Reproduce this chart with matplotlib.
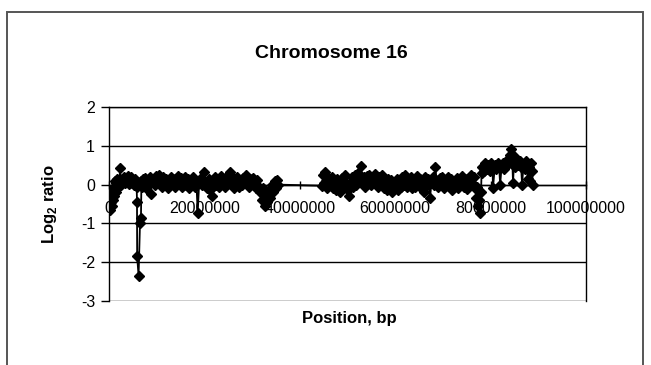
import matplotlib
matplotlib.use("Agg")
import matplotlib.pyplot as plt
from matplotlib.patches import Rectangle
import numpy as np

plt.rcParams['font.family'] = ['Liberation Sans', 'DejaVu Sans']
plt.rcParams['mathtext.fontset'] = 'custom'
plt.rcParams['mathtext.bf'] = 'Liberation Sans:bold'
plt.rcParams['mathtext.rm'] = 'Liberation Sans:bold'

title = "Chromosome 16"
x_label = "Position, bp"
y_label = r"Log$_\mathbf{2}$ ratio"
x_ticks = [0, 20000000, 40000000, 60000000, 80000000, 100000000]
y_ticks = [-3, -2, -1, 0, 1, 2]

# positions in Mb, log2 ratios
pos_a = [0.1, 0.2, 0.3, 0.4, 0.5, 0.6, 0.7, 0.8, 0.9, 1.0, 1.1, 1.2, 1.4, 1.5, 1.6, 1.8, 2.0, 2.2, 2.3, 2.4,
         2.6, 2.8, 3.0, 3.2, 3.4, 3.6, 3.8, 4.0, 4.2, 4.4, 4.6, 4.8, 5.0, 5.2, 5.4, 5.6, 5.8, 5.87, 5.9, 6.2,
         6.5, 6.7, 6.8, 7.0, 7.2, 7.4, 7.6, 7.8, 8.0, 8.2, 8.5, 8.8, 9.0, 9.3, 9.6, 9.9, 10.2, 10.5, 10.8, 11.1,
         11.4, 11.7, 12.0, 12.3, 12.6, 12.9, 13.2, 13.5, 13.8, 14.1, 14.4, 14.7, 15.0, 15.3, 15.6, 15.9, 16.2, 16.5, 16.8, 17.1,
         17.4, 17.7, 18.0, 18.3, 18.6, 18.9, 19.2, 19.5, 19.8, 20.0, 20.3, 20.6, 20.9, 21.2, 21.6, 21.9, 22.2, 22.5, 22.8, 23.1,
         23.4, 23.7, 24.0, 24.3, 24.6, 24.9, 25.2, 25.4, 25.7, 26.0, 26.3, 26.6, 26.9, 27.2, 27.5, 27.8, 28.1, 28.4, 28.7, 29.0,
         29.3, 29.6, 29.9, 30.2, 30.5, 30.8, 31.1, 31.4, 31.7, 32.0, 32.3, 32.6, 32.9, 33.2, 33.5, 33.8, 34.1, 34.4, 34.7, 35.0,
         35.2, 35.4]
val_a = [-0.55, -0.35, -0.65, -0.45, -0.3, -0.55, -0.2, -0.4, -0.1, -0.3, -0.15, 0.1, 0.05, -0.18, 0.15, -0.05, 0.12, 0.05, 0.42, 0.1,
         0.0, 0.15, 0.08, 0.2, 0.05, 0.18, 0.1, 0.22, 0.02, 0.15, 0.2, 0.05, 0.12, -0.02, 0.15, 0.1, -0.05, -0.45, -1.85, -2.35,
         -0.98, -0.85, 0.1, -0.05, 0.15, 0.0, 0.18, -0.1, 0.12, 0.05, 0.2, -0.25, 0.08, 0.15, 0.0, 0.22, 0.05, 0.25, 0.1, -0.05,
         0.2, 0.08, 0.15, -0.08, 0.1, 0.2, 0.02, 0.15, -0.05, 0.12, 0.22, 0.05, 0.18, -0.05, 0.1, 0.2, 0.0, 0.15, -0.08, 0.12,
         0.05, 0.2, -0.05, 0.1, -0.72, 0.05, 0.18, 0.0, 0.12, 0.33, 0.05, -0.1, 0.15, -0.15, -0.3, 0.1, 0.2, 0.0, 0.15, -0.05,
         0.22, 0.05, 0.15, -0.05, 0.1, 0.2, 0.28, 0.33, 0.05, 0.15, -0.1, 0.1, 0.2, -0.05, 0.12, 0.0, 0.18, 0.05, 0.25, 0.1,
         -0.05, 0.15, 0.02, 0.18, 0.05, -0.1, 0.12, -0.05, -0.2, -0.4, -0.1, -0.55, -0.25, -0.45, -0.15, -0.35, 0.0, -0.2, 0.1, -0.1,
         0.12, 0.0]

pos_b = [44.7, 44.9, 45.1, 45.3, 45.5, 45.8, 46.1, 46.4, 46.7, 47.0, 47.3, 47.6, 47.9, 48.2, 48.5, 48.8, 49.1, 49.4, 49.7, 50.0,
         50.3, 50.6, 50.9, 51.2, 51.5, 51.8, 52.1, 52.4, 52.8, 53.1, 53.4, 53.7, 54.0, 54.3, 54.6, 54.9, 55.2, 55.5, 55.8, 56.1,
         56.4, 56.7, 57.0, 57.3, 57.6, 57.9, 58.2, 58.5, 58.8, 59.1, 59.4, 59.7, 60.0, 60.3, 60.6, 60.9, 61.2, 61.5, 61.8, 62.1,
         62.4, 62.7, 63.0, 63.3, 63.6, 63.9, 64.2, 64.5, 64.8, 65.1, 65.4, 65.7, 66.0, 66.3, 66.6, 66.9, 67.3, 67.6, 67.9, 68.2,
         68.4, 68.7, 69.0, 69.3, 69.6, 69.9, 70.2, 70.5, 70.8, 71.1, 71.4, 71.7, 72.0, 72.3, 72.6, 72.9, 73.2, 73.5, 73.8, 74.1,
         74.4, 74.7, 75.0, 75.3, 75.6, 75.9, 76.2, 76.5, 76.8, 77.0, 77.2, 77.4, 77.6, 77.8, 78.0]
val_b = [-0.03, 0.25, 0.05, 0.33, 0.1, -0.1, 0.15, 0.0, 0.2, -0.08, 0.1, -0.15, 0.15, 0.02, -0.2, 0.18, -0.05, 0.25, 0.05, -0.15,
         -0.3, 0.05, 0.2, -0.05, 0.25, 0.0, 0.3, 0.1, 0.47, 0.05, 0.2, -0.05, 0.22, 0.08, 0.25, -0.02, 0.18, 0.05, 0.28, 0.1,
         -0.05, 0.2, 0.02, 0.25, -0.1, 0.1, -0.15, 0.15, -0.05, 0.12, -0.2, 0.05, -0.1, 0.15, -0.15, 0.08, -0.05, 0.2, 0.0, 0.25,
         -0.05, 0.15, 0.02, 0.2, -0.1, 0.12, -0.05, 0.22, 0.05, 0.15, -0.1, 0.1, -0.18, 0.2, 0.0, 0.15, -0.35, 0.05, 0.2, 0.0,
         0.46, 0.1, -0.05, 0.18, 0.02, 0.2, -0.1, 0.12, 0.0, 0.2, -0.05, 0.15, -0.15, 0.1, 0.0, 0.18, -0.1, 0.12, 0.02, 0.22,
         -0.05, 0.15, -0.12, 0.1, 0.0, 0.25, 0.05, 0.2, -0.1, -0.35, -0.05, -0.55, -0.4, -0.72, -0.2]

pos_c = [78.1, 78.3, 78.6, 78.9, 79.2, 79.5, 79.8, 80.1, 80.4, 80.5, 80.9, 81.2, 81.5, 81.8, 82.0, 82.3, 82.6, 82.9, 83.2, 83.5,
         83.8, 84.1, 84.3, 84.5, 84.7, 84.9, 85.2, 85.5, 85.8, 86.1, 86.4, 86.6, 86.9, 87.2, 87.5, 87.8, 88.1, 88.3, 88.5, 88.7,
         88.9]
val_c = [0.3, 0.45, 0.35, 0.55, 0.4, 0.5, 0.35, 0.55, 0.45, -0.1, 0.5, 0.4, 0.55, 0.45, 0.0, 0.45, 0.55, 0.4, 0.6, 0.5,
         0.65, 0.75, 0.93, 0.8, 0.05, 0.55, 0.45, 0.65, 0.5, 0.6, 0.45, 0.0, 0.5, 0.4, 0.6, 0.15, 0.45, 0.1, 0.55, 0.35,
         -0.02]

positions = np.array(pos_a + pos_b + pos_c) * 1e6
values = np.array(val_a + val_b + val_c)

W, H = 651, 365
fig = plt.figure(figsize=(W / 100, H / 100), dpi=100)
fig.patch.set_facecolor('white')

# chart border
fig.add_artist(Rectangle((7 / W, -0.05), (643 - 7) / W, 1.05 - 12 / H,
                         transform=fig.transFigure, fill=False, edgecolor='#555555', lw=1.4))

ax = fig.add_axes([109 / W, 64 / H, (586 - 109) / W, (301 - 107) / H])
ax.set_xlim(x_ticks[0], x_ticks[-1])
ax.set_ylim(y_ticks[0], y_ticks[-1])

for yv in y_ticks:
    ax.axhline(yv, color='black', lw=1.0, zorder=1)

ax.plot(positions, values, color='black', lw=1.3, marker='D', ms=4.8,
        markerfacecolor='black', markeredgecolor='black', zorder=3)

ax.spines['bottom'].set_position(('data', 0))
for s in ['top', 'right', 'left', 'bottom']:
    ax.spines[s].set_color('black')
    ax.spines[s].set_linewidth(1.0)

ax.set_xticks(x_ticks)
ax.set_xticklabels([str(t) for t in x_ticks])
ax.set_yticks(y_ticks)
ax.set_yticklabels([str(t) for t in y_ticks])
ax.tick_params(axis='x', direction='inout', length=6, width=1, pad=9, labelsize=11.5)
ax.tick_params(axis='y', direction='out', length=6, width=1, pad=4, labelsize=11.5)

ax.set_ylabel(y_label, fontsize=12, fontweight='bold')
ax.yaxis.set_label_coords(-0.105, 0.5)

fig.text(331.5 / W, 1 - 53 / H, title, ha='center', va='center', fontsize=14, fontweight='bold')
fig.text(349 / W, 1 - 319 / H, x_label, ha='center', va='center', fontsize=12, fontweight='bold')

fig.savefig('out.png', dpi=100, facecolor='white')
